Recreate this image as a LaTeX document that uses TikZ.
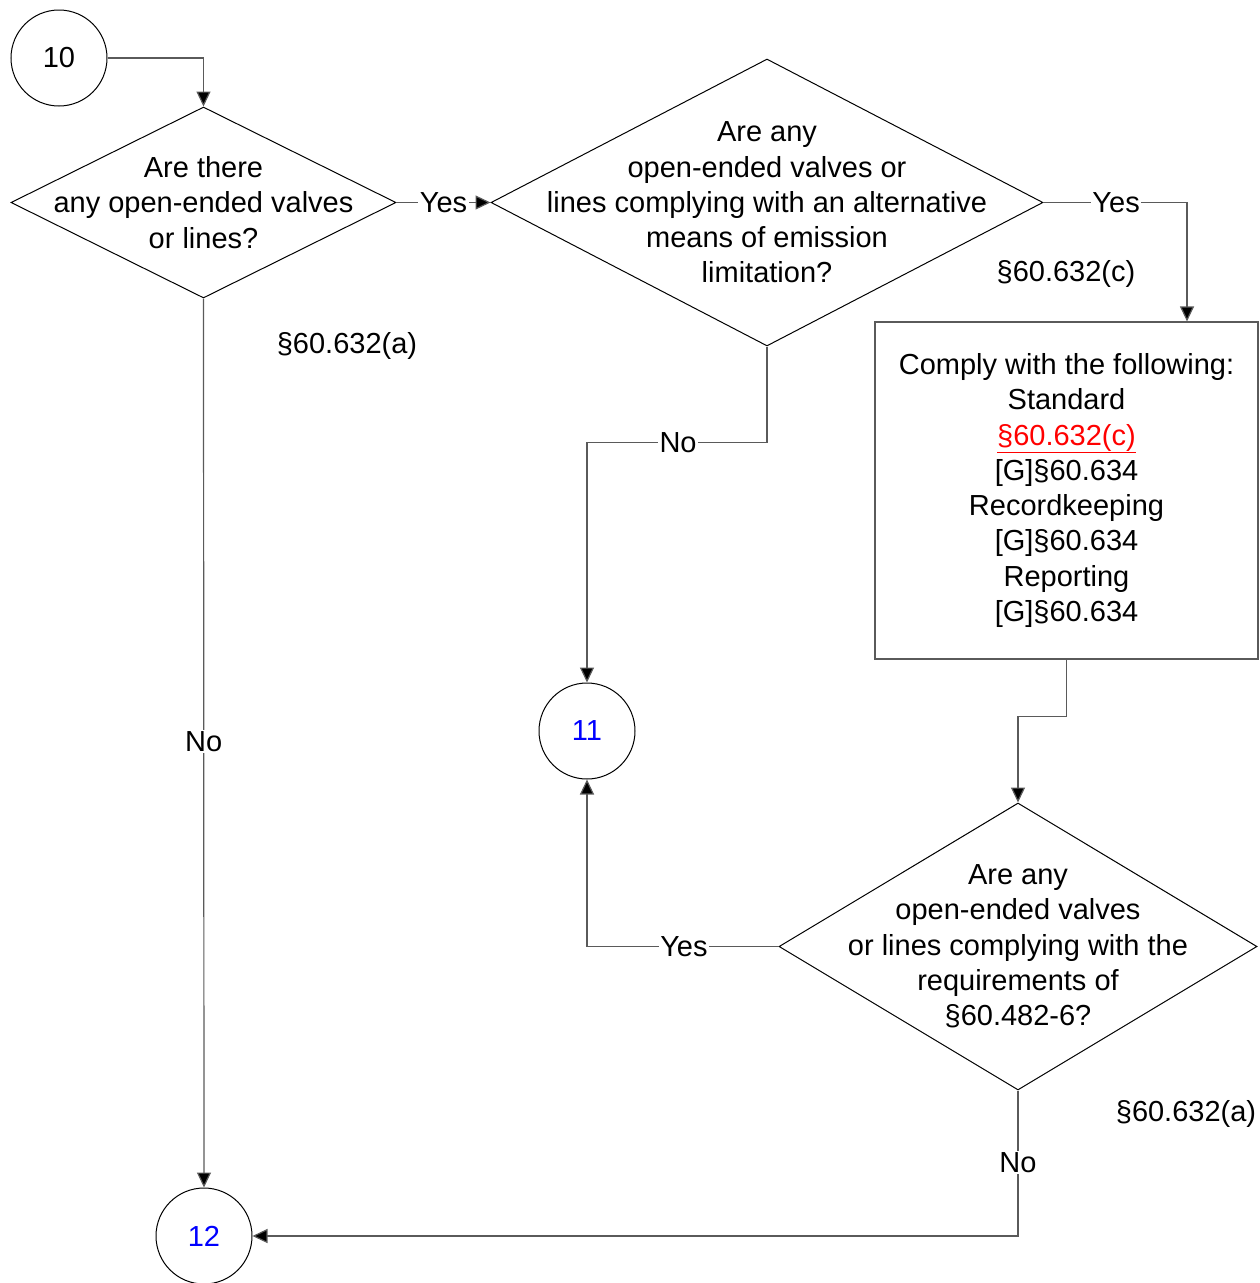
\documentclass[tikz,border=0pt]{standalone}
\usepackage{fontspec}
\setmainfont{Liberation Sans}
\usetikzlibrary{arrows.meta,shapes.geometric}
\definecolor{lnc}{RGB}{90,90,90}
\definecolor{redtxt}{RGB}{255,0,0}
\definecolor{bluetxt}{RGB}{0,0,255}
\begin{document}
\begin{tikzpicture}[x=1pt,y=-1pt,
  txt/.style={font=\fontsize{29}{35.3}\selectfont, align=center, inner sep=0pt},
  decision/.style={diamond, draw=black, line width=1pt, inner sep=0pt},
  connector/.style={circle, draw=black, line width=1pt, minimum size=96pt, inner sep=0pt, font=\fontsize{29}{35}\selectfont},
  procbox/.style={rectangle, draw=lnc, line width=1.2pt, inner sep=0pt},
  conn/.style={draw=lnc, line width=1.2pt, -{Triangle[length=15pt,width=14pt,fill=black]}},
  lbl/.style={fill=white, inner sep=1.5pt, font=\fontsize{29}{35}\selectfont}
]
\useasboundingbox (0,0) rectangle (1259,1283);

% connectors (circles)
\node[connector] (c10) at (59,58) {10};
\node[connector, text=bluetxt] (c11) at (587,731) {11};
\node[connector, text=bluetxt] (c12) at (204,1236) {12};

% decisions
\node[decision, minimum width=385pt, minimum height=191pt] (d1) at (203.5,202.5) {};
\node[txt] at (d1.center) {Are there\\any open-ended valves\\or lines?};

\node[decision, minimum width=552pt, minimum height=287pt] (d2) at (767,202.5) {};
\node[txt] at (d2.center) {Are any\\open-ended valves or\\lines complying with an alternative\\means of emission\\limitation?};

\node[decision, minimum width=478pt, minimum height=287pt] (d3) at (1018,946.5) {};
\node[txt] at (d3.center) {Are any\\open-ended valves\\or lines complying with the\\requirements of\\§60.482-6?};

% process box
\node[procbox, minimum width=383pt, minimum height=337pt] (box) at (1066.5,490.5) {};
\node[txt] at ([yshift=0pt]box.center) {Comply with the following:\\Standard\\\textcolor{redtxt}{\underline{§60.632(c)}}\\{[G]§60.634}\\Recordkeeping\\{[G]§60.634}\\Reporting\\{[G]§60.634}};

% free labels
\node[txt] (ra) at (347,346) {§60.632(a)};
\node[txt] (rc) at (1066,274) {§60.632(c)};
\node[txt] (rb) at (1186,1114) {§60.632(a)};

% connectors
\draw[conn] (c10.east) -| (d1.north);
\draw[conn] (d1.east) -- node[lbl]{Yes} (d2.west);
\draw[conn] (d2.east) -| node[lbl, pos=0.253]{Yes} ([xshift=120.5pt]box.north);
\draw[conn] (box.south) -- ++(0,57) -| (d3.north);
\draw[conn] (d3.west) -| node[lbl, pos=0.247]{Yes} (c11.south);
\draw[conn] (d2.south) -- ++(0,96) -| node[lbl, pos=0.247]{No} (c11.north);
\draw[conn] (d1.south) -- node[lbl, pos=0.498]{No} (c12.north);
\draw[conn] (d3.south) |- node[lbl, pos=0.247]{No} (c12.east);
\end{tikzpicture}
\end{document}
